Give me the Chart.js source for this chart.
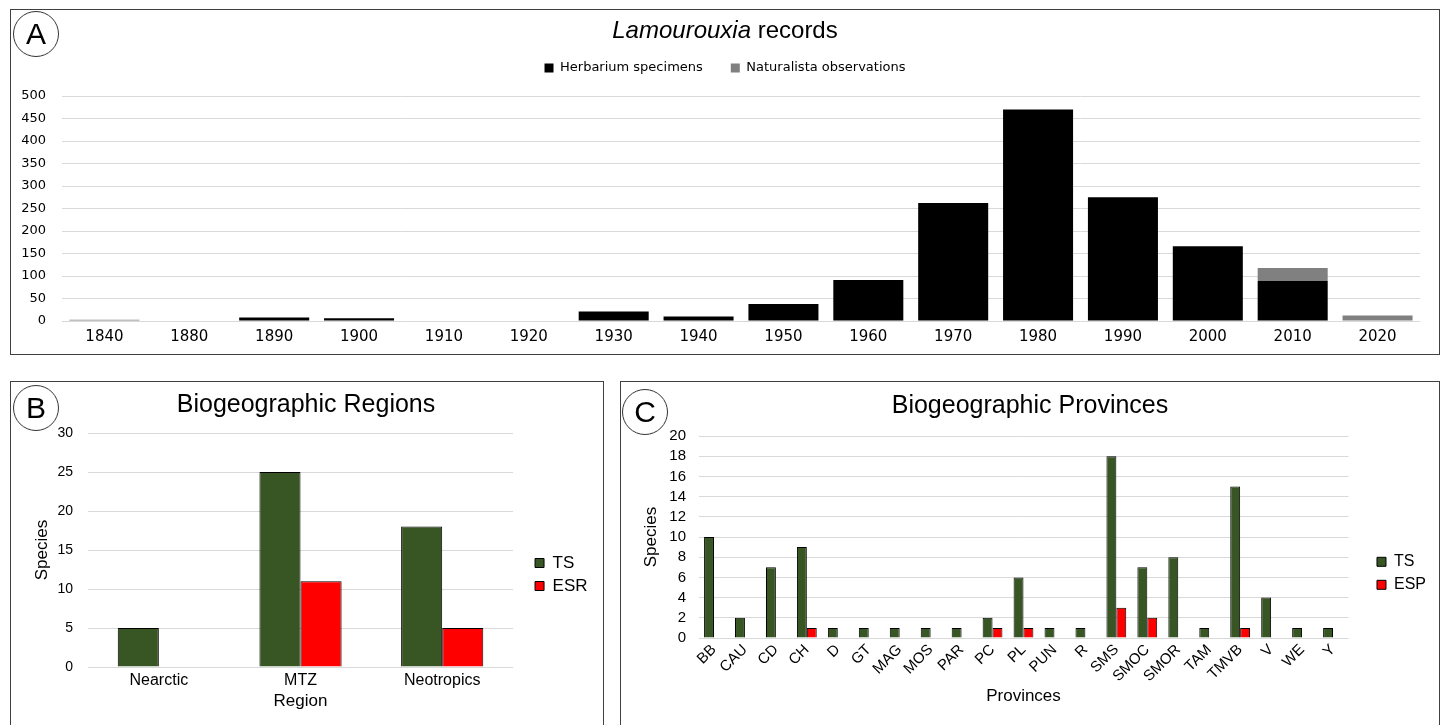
<!DOCTYPE html>
<html>
<head>
<meta charset="utf-8">
<script src="https://cdn.jsdelivr.net/npm/chart.js@4.4.1/dist/chart.umd.min.js"></script>
<style>
  body { margin: 0; background: #fff; width: 1447px; height: 725px; overflow: hidden; position: relative;
         font-family: "Liberation Sans", Arial, sans-serif; }
  .panel { position: absolute; border: 1px solid #404040; }
  .panel canvas { position: absolute; left: 0; top: 0; }
  .tag { position: absolute; width: 44px; height: 44px; border: 1px solid #333; border-radius: 50%;
         text-align: center; line-height: 44px; font-size: 30px; color: #000; }
  .ttl { position: absolute; transform: translate(-50%, -50%); white-space: nowrap; color: #000; }
</style>
</head>
<body>

<div class="panel" style="left:10px; top:9px; width:1428px; height:344px;">
  <canvas id="chartA" width="1428" height="344"></canvas>
  <div class="tag" style="left:2px; top:1px;">A</div>
  <div class="ttl" style="left:714px; top:20px; font-size:24px;"><i>Lamourouxia</i> records</div>
</div>

<div class="panel" style="left:10px; top:381px; width:592px; height:345px;">
  <canvas id="chartB" width="592" height="343"></canvas>
  <div class="tag" style="left:2px; top:3px;">B</div>
  <div class="ttl" style="left:295px; top:21px; font-size:25px;">Biogeographic Regions</div>
</div>

<div class="panel" style="left:620px; top:381px; width:818px; height:345px;">
  <canvas id="chartC" width="818" height="343"></canvas>
  <div class="tag" style="left:1px; top:7px;">C</div>
  <div class="ttl" style="left:409px; top:22px; font-size:25px;">Biogeographic Provinces</div>
</div>

<script>
// panel A - records per decade
const decades = ["1840", "1880", "1890", "1900", "1910", "1920", "1930", "1940",
                 "1950", "1960", "1970", "1980", "1990", "2000", "2010", "2020"];
const herbarium = [0, 0, 8, 6, 0, 0, 21, 10, 38, 91, 262, 470, 275, 166, 89, 0];
const naturalista = [3, 0, 0, 0, 0, 0, 0, 0, 0, 0, 0, 0, 0, 0, 29, 12];

// panel B - regions
const regions = ["Nearctic", "MTZ", "Neotropics"];
const regionTS = [5, 25, 18];
const regionESR = [0, 11, 5];

// panel C - provinces
const provinces = ["BB", "CAU", "CD", "CH", "D", "GT", "MAG", "MOS", "PAR", "PC", "PL",
                   "PUN", "R", "SMS", "SMOC", "SMOR", "TAM", "TMVB", "V", "WE", "Y"];
const provTS  = [10, 2, 7, 9, 1, 1, 1, 1, 1, 2, 6, 1, 1, 18, 7, 8, 1, 15, 4, 1, 1];
const provESP = [0, 0, 0, 1, 0, 0, 0, 0, 0, 1, 1, 0, 0, 3, 2, 0, 0, 1, 0, 0, 0];

const GREEN = "#375623";
const RED = "#ff0000";
const GRID = "#d9d9d9";

Chart.defaults.font.family = "'Liberation Sans', Arial, sans-serif";
Chart.defaults.color = "#000";
Chart.defaults.animation = false;
Chart.defaults.plugins.tooltip.enabled = false;

// extra room under the top legend
const legendGap = {
    id: "legendGap",
    beforeLayout(chart, args, opts) {
        const legend = chart.legend;
        if (!legend || legend._gapDone) return;
        const fit = legend.fit;
        legend.fit = function () {
            fit.call(this);
            this.height += opts.size || 0;
        };
        legend._gapDone = true;
    }
};

// empty right axis, used as a blank strip on the right of the plot
const spacer = (w) => ({
    position: "right",
    grid: { display: false },
    ticks: { display: false },
    border: { display: false },
    afterFit: (s) => { s.width = w; }
});

// A
new Chart(document.getElementById("chartA"), {
    type: "bar",
    data: {
        labels: decades,
        datasets: [
            { label: "Herbarium specimens", data: herbarium, backgroundColor: "#000000",
              categoryPercentage: 0.825, barPercentage: 1 },
            { label: "Naturalista observations", data: naturalista, backgroundColor: "#808080",
              categoryPercentage: 0.825, barPercentage: 1 }
        ]
    },
    options: {
        responsive: false,
        layout: { padding: { top: 23.5, left: 0, right: 0, bottom: 0 } },
        plugins: {
            legend: {
                position: "top",
                labels: { boxWidth: 9, boxHeight: 9, padding: 28,
                          font: { family: "'DejaVu Sans'", size: 13 } }
            },
            legendGap: { size: 11.5 }
        },
        scales: {
            x: {
                stacked: true,
                grid: { display: false, drawTicks: false },
                border: { display: false },
                ticks: { padding: 7, font: { family: "'DejaVu Sans'", size: 15 } },
                afterFit: (s) => { s.height = 33; }
            },
            y: {
                stacked: true,
                min: 0, max: 500,
                grid: { color: GRID, drawTicks: false },
                border: { display: false },
                ticks: { stepSize: 50, padding: 16, font: { family: "'DejaVu Sans'", size: 13 } },
                afterFit: (s) => { s.width = 51; }
            },
            gap: spacer(19)
        }
    },
    plugins: [legendGap]
});

// B
new Chart(document.getElementById("chartB"), {
    type: "bar",
    data: {
        labels: regions,
        datasets: [
            { label: "TS", data: regionTS, backgroundColor: GREEN, borderColor: "#000", borderWidth: 1,
              categoryPercentage: 0.58, barPercentage: 1 },
            { label: "ESR", data: regionESR, backgroundColor: RED, borderColor: "#000", borderWidth: 1,
              categoryPercentage: 0.58, barPercentage: 1 }
        ]
    },
    options: {
        responsive: false,
        layout: { padding: { top: 51, left: 17, right: 5.5, bottom: 9 } },
        plugins: {
            legend: {
                position: "right",
                labels: { boxWidth: 9, boxHeight: 9, padding: 6, font: { size: 17 } }
            }
        },
        scales: {
            x: {
                grid: { display: false, drawTicks: false },
                border: { display: false },
                ticks: { padding: 4, font: { size: 16 } },
                title: { display: true, text: "Region", font: { size: 17 }, padding: { top: 4, bottom: 4 } },
                afterFit: (s) => { s.height = 49; }
            },
            y: {
                min: 0, max: 30,
                grid: { color: GRID, drawTicks: false },
                border: { display: false },
                ticks: { stepSize: 5, padding: 15, font: { size: 14 } },
                title: { display: true, text: "Species", font: { size: 17 }, padding: { top: 4, bottom: 4 } },
                afterFit: (s) => { s.width = 60; }
            },
            gap: spacer(16)
        }
    }
});

// C
new Chart(document.getElementById("chartC"), {
    type: "bar",
    data: {
        labels: provinces,
        datasets: [
            { label: "TS", data: provTS, backgroundColor: GREEN, borderColor: "#000", borderWidth: 1,
              categoryPercentage: 0.64, barPercentage: 1 },
            { label: "ESP", data: provESP, backgroundColor: RED, borderColor: "#000", borderWidth: 1,
              categoryPercentage: 0.64, barPercentage: 1 }
        ]
    },
    options: {
        responsive: false,
        layout: { padding: { top: 54, left: 16, right: 3, bottom: 14.4 } },
        plugins: {
            legend: {
                position: "right",
                labels: { boxWidth: 9, boxHeight: 9, padding: 7, font: { size: 16 } }
            }
        },
        scales: {
            x: {
                grid: { display: false, drawTicks: false },
                border: { display: false },
                ticks: { padding: 3, autoSkip: false, minRotation: 45, maxRotation: 45, font: { size: 15 } },
                title: { display: true, text: "Provinces", font: { size: 17 }, padding: { top: 4, bottom: 4 } },
                afterFit: (s) => { s.height = 72.6; }
            },
            y: {
                min: 0, max: 20,
                grid: { color: GRID, drawTicks: false },
                border: { display: false },
                ticks: { stepSize: 2, autoSkip: false, padding: 12.5, font: { size: 15 } },
                title: { display: true, text: "Species", font: { size: 17 }, padding: { top: 4, bottom: 4 } },
                afterFit: (s) => { s.width = 61.5; }
            },
            gap: spacer(21.5)
        }
    }
});
</script>
</body>
</html>
